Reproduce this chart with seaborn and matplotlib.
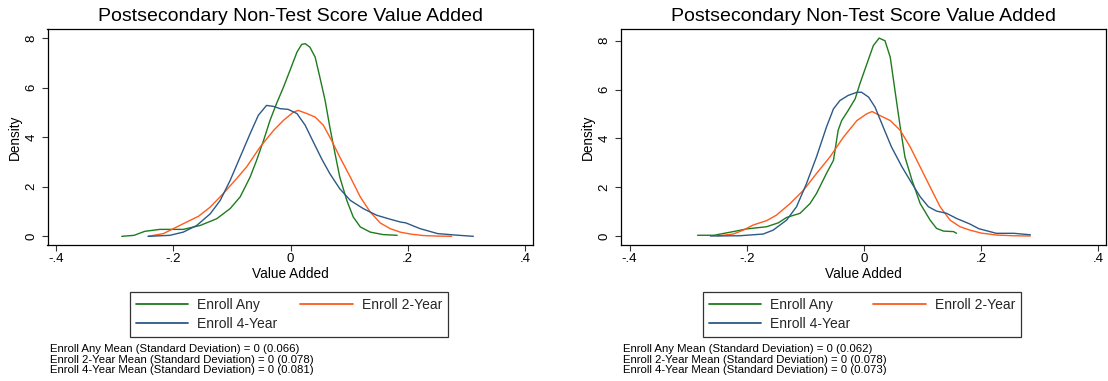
import numpy as np
import pandas as pd
import matplotlib
matplotlib.use("Agg")
import matplotlib.pyplot as plt
import seaborn as sns

# ---------------- data ----------------
series_names = ["Enroll Any", "Enroll 2-Year", "Enroll 4-Year"]
series_colors = ["#1e7b1e", "#ff5b1c", "#2d5986"]

# Left panel
left_any_x = [-0.288, -0.267, -0.249, -0.223, -0.183, -0.154, -0.126, -0.103, -0.086, -0.069, -0.058, -0.046,
              -0.035, -0.024, -0.012, -0.001, 0.011, 0.019, 0.025, 0.033, 0.042, 0.050, 0.059, 0.067, 0.076,
              0.084, 0.096, 0.107, 0.119, 0.136, 0.158, 0.182]
left_any_y = [0.00, 0.04, 0.20, 0.28, 0.28, 0.44, 0.71, 1.12, 1.59, 2.39, 3.06, 3.87,
              4.68, 5.35, 6.02, 6.69, 7.43, 7.74, 7.77, 7.63, 7.23, 6.42, 5.48, 4.41, 3.33,
              2.39, 1.45, 0.78, 0.38, 0.17, 0.07, 0.04]

left_2yr_x = [-0.243, -0.217, -0.183, -0.157, -0.137, -0.115, -0.092, -0.075, -0.052, -0.029, -0.012, 0.005,
              0.013, 0.028, 0.042, 0.056, 0.070, 0.084, 0.102, 0.119, 0.136, 0.153, 0.170, 0.187, 0.205,
              0.227, 0.250, 0.275]
left_2yr_y = [0.00, 0.11, 0.51, 0.81, 1.18, 1.72, 2.33, 2.80, 3.60, 4.27, 4.68, 5.01,
              5.08, 4.95, 4.81, 4.48, 3.87, 3.20, 2.39, 1.59, 0.98, 0.54, 0.31, 0.17, 0.09,
              0.03, 0.01, 0.00]

left_4yr_x = [-0.243, -0.206, -0.183, -0.160, -0.137, -0.120, -0.103, -0.086, -0.069, -0.055, -0.041, -0.029,
              -0.018, -0.004, 0.011, 0.025, 0.039, 0.053, 0.067, 0.084, 0.102, 0.124, 0.147, 0.170,
              0.187, 0.197, 0.221, 0.251, 0.282, 0.312]
left_4yr_y = [0.00, 0.04, 0.17, 0.44, 0.91, 1.45, 2.26, 3.20, 4.14, 4.88, 5.28, 5.24,
              5.15, 5.12, 4.95, 4.48, 3.80, 3.13, 2.53, 1.92, 1.45, 1.12, 0.85, 0.69,
              0.58, 0.54, 0.31, 0.11, 0.05, 0.00]

# Right panel
right_any_x = [-0.284, -0.256, -0.223, -0.200, -0.166, -0.146, -0.132, -0.109, -0.092, -0.081, -0.064, -0.052,
               -0.044, -0.038, -0.027, -0.015, -0.007, 0.005, 0.016, 0.026, 0.036, 0.045, 0.053, 0.062,
               0.070, 0.082, 0.096, 0.113, 0.124, 0.136, 0.153, 0.158]
right_any_y = [0.03, 0.03, 0.18, 0.29, 0.38, 0.54, 0.76, 0.93, 1.33, 1.74, 2.56, 3.10,
               4.33, 4.73, 5.14, 5.62, 6.23, 7.05, 7.80, 8.11, 8.00, 7.32, 5.96, 4.46,
               3.24, 2.29, 1.33, 0.65, 0.31, 0.20, 0.18, 0.11]

right_2yr_x = [-0.250, -0.223, -0.206, -0.189, -0.166, -0.149, -0.126, -0.103, -0.081, -0.058, -0.035, -0.012,
               0.005, 0.014, 0.027, 0.045, 0.062, 0.079, 0.096, 0.113, 0.130, 0.147, 0.164, 0.181,
               0.200, 0.226, 0.255, 0.284]
right_2yr_y = [0.00, 0.08, 0.24, 0.45, 0.63, 0.86, 1.33, 1.88, 2.56, 3.24, 4.05, 4.73,
               5.01, 5.10, 4.94, 4.73, 4.33, 3.65, 2.83, 2.01, 1.20, 0.65, 0.38, 0.24,
               0.12, 0.04, 0.01, 0.00]

right_4yr_x = [-0.262, -0.212, -0.172, -0.155, -0.132, -0.115, -0.098, -0.081, -0.064, -0.052, -0.041, -0.027,
               -0.012, -0.004, 0.008, 0.019, 0.033, 0.047, 0.065, 0.082, 0.096, 0.110, 0.124, 0.141,
               0.158, 0.181, 0.196, 0.226, 0.256, 0.284]
right_4yr_y = [0.00, 0.01, 0.08, 0.24, 0.65, 1.20, 2.15, 3.24, 4.46, 5.21, 5.55, 5.76,
               5.89, 5.89, 5.69, 5.28, 4.46, 3.65, 2.83, 2.15, 1.61, 1.20, 1.02, 0.93,
               0.72, 0.49, 0.30, 0.11, 0.11, 0.05]

title_text = "Postsecondary Non-Test Score Value Added"
x_label = "Value Added"
y_label = "Density"
x_ticks = [-0.4, -0.2, 0.0, 0.2, 0.4]
x_tick_labels = ["-.4", "-.2", "0", ".2", ".4"]
y_ticks = [0, 2, 4, 6, 8]
y_tick_labels = ["0", "2", "4", "6", "8"]

left_sd = ["0.066", "0.078", "0.081"]
right_sd = ["0.062", "0.078", "0.073"]

# ---------------- figure ----------------
sns.set_theme(style="white")
plt.rcParams["font.family"] = ["Liberation Sans", "DejaVu Sans"]

W, H = 1108, 381
fig = plt.figure(figsize=(W / 100, H / 100), dpi=100)
fig.patch.set_facecolor("white")


def frac(x0, y0, x1, y1):
    return [x0 / W, 1 - y1 / H, (x1 - x0) / W, (y1 - y0) / H]


def make_df(xs_list, ys_list):
    frames = []
    for name, xs, ys in zip(series_names, xs_list, ys_list):
        frames.append(pd.DataFrame({"x": xs, "y": ys, "series": name}))
    return pd.concat(frames, ignore_index=True)


panels = [
    dict(rect=frac(47.5, 29.3, 533, 245), xlim=(-0.4148, 0.4138), ylim=(-0.35, 8.35),
         df=make_df([left_any_x, left_2yr_x, left_4yr_x], [left_any_y, left_2yr_y, left_4yr_y]),
         sds=left_sd, note_x=50, leg=(130, 292)),
    dict(rect=frac(620.5, 29.3, 1106, 245), xlim=(-0.4155, 0.4132), ylim=(-0.369, 8.47),
         df=make_df([right_any_x, right_2yr_x, right_4yr_x], [right_any_y, right_2yr_y, right_4yr_y]),
         sds=right_sd, note_x=623, leg=(703, 292)),
]

palette = dict(zip(series_names, series_colors))

for p in panels:
    ax = fig.add_axes(p["rect"])
    sns.lineplot(data=p["df"], x="x", y="y", hue="series", palette=palette,
                 hue_order=series_names, estimator=None, sort=False,
                 linewidth=1.0, legend=False, ax=ax)
    for ln in ax.get_lines():
        ln.set_solid_joinstyle("round")
        ln.set_solid_capstyle("round")
    ax.set_xlim(*p["xlim"])
    ax.set_ylim(*p["ylim"])
    ax.set_xticks(x_ticks)
    ax.set_xticklabels(x_tick_labels)
    ax.set_yticks(y_ticks)
    ax.set_yticklabels(y_tick_labels, rotation=90, va="center")
    ax.tick_params(axis="both", which="major", direction="out", length=4.3, width=0.8,
                   color="#333333", labelsize=9.5, labelcolor="black", left=True, bottom=True)
    ax.tick_params(axis="x", pad=1.5)
    ax.tick_params(axis="y", pad=3)
    for sp in ax.spines.values():
        sp.set_visible(True)
        sp.set_color("black")
        sp.set_linewidth(0.9)
    ax.set_facecolor("white")
    ax.grid(False)
    ax.set_title(title_text, fontsize=14, pad=6, color="black")
    ax.set_xlabel(x_label, fontsize=9.8, color="black")
    ax.set_ylabel(y_label, fontsize=9.8, color="black")
    ax.xaxis.set_label_coords(0.5, -0.135)
    ax.xaxis.label.set_va("center")
    ax.yaxis.set_label_coords(-0.067, 0.5)
    ax.yaxis.label.set_va("center")

    lines = ax.get_lines()
    handles = [lines[0], lines[2], lines[1]]
    labels = [series_names[0], series_names[2], series_names[1]]
    lx, ly = p["leg"]
    leg = fig.legend(handles, labels, loc="upper left", bbox_to_anchor=(lx / W, 1 - ly / H),
                     ncol=2, fontsize=10, frameon=True, fancybox=False, shadow=False,
                     handlelength=3.8, handletextpad=0.65, columnspacing=1.6,
                     labelspacing=0.4, borderpad=0.4, borderaxespad=0.0)
    leg.get_frame().set_edgecolor("black")
    leg.get_frame().set_linewidth(0.9)
    for lh in leg.get_lines():
        lh.set_linewidth(1.3)

    ys = [349, 359.7, 370.4]
    for name, sd, yy in zip(series_names, p["sds"], ys):
        fig.text(p["note_x"] / W, 1 - yy / H,
                 f"{name} Mean (Standard Deviation) = 0 ({sd})",
                 fontsize=8.2, ha="left", va="center", color="black")

fig.savefig("out.png", dpi=100, facecolor="white")
